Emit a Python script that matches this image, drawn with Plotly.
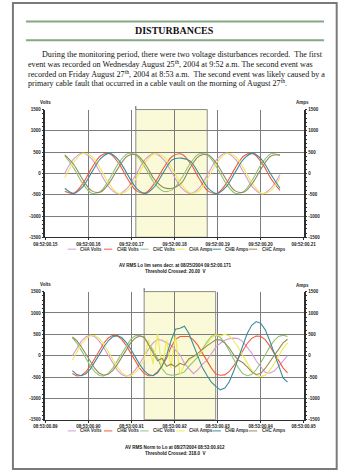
import plotly.graph_objects as go

W, H = 351, 473

# ---------------- data ----------------
series_names = ["CHA Volts", "CHB Volts", "CHC Volts", "CHA Amps", "CHB Amps", "CHC Amps"]
series_colors = ["#d99ad9", "#f25a3c", "#8fc474", "#eeea50", "#3d8c9a", "#968a5a"]
series_axis = ["left", "left", "left", "right", "right", "right"]

y_tickvals = [-1500, -1000, -500, 0, 500, 1000, 1500]
y_ticktext = ["-1500", "-1000", "-500", "0", "500", "1000", "1500"]

# ---- chart 1 : 08/25/2004 ----
x1_tickvals = [0.15, 0.16, 0.17, 0.18, 0.19, 0.20, 0.21]
x1_ticktext = ["09:52:00.15", "09:52:00.16", "09:52:00.17", "09:52:00.18",
               "09:52:00.19", "09:52:00.20", "09:52:00.21"]
x1_range = [0.15, 0.21]
event1_window = [0.17100, 0.18760]
t1 = [0.15450, 0.15658, 0.15867, 0.16075, 0.16283, 0.16492, 0.16700, 0.16908,
      0.17117, 0.17325, 0.17533, 0.17742, 0.17950, 0.18158, 0.18367, 0.18575,
      0.18783, 0.18992, 0.19200, 0.19408, 0.19617, 0.19825, 0.20033, 0.20242,
      0.20450]
c1_cha_volts = [0, 340, 480, 340, 0, -340, -480, -340, 0, 335, 470, 330, 0,
                -335, -475, -340, 0, 340, 480, 340, 5, -335, -480, -345, -30]
c1_chb_volts = [-416, -464, -240, 124, 416, 464, 240, -124, -410, -455, -235,
                120, 405, 455, 240, -124, -416, -464, -240, 124, 416, 464, 240,
                -124, -400]
c1_chc_volts = [416, 124, -240, -464, -416, -124, 240, 464, 416, 124, -230,
                -420, -380, -120, 235, 460, 416, 124, -240, -464, -416, -124,
                240, 464, 416]
c1_cha_amps = [-100, 262, 469, 403, 100, -262, -469, -403, -100, 262, 465, 400,
               100, -255, -460, -400, -100, 262, 469, 403, 100, -262, -469,
               -403, -100]
c1_chb_amps = [-349, -470, -314, 24, 349, 470, 314, -24, -349, -470, -314, 24,
               320, 360, 290, -20, -349, -470, -314, 24, 349, 470, 314, -24,
               -349]
c1_chc_amps = [437, 209, -142, -410, -437, -209, 142, 410, 437, 209, -142,
               -330, -350, -230, 142, 410, 437, 209, -142, -410, -437, -209,
               142, 410, 437]

# ---- chart 2 : 08/27/2004 ----
x2_tickvals = [0.89, 0.90, 0.91, 0.92, 0.93, 0.94, 0.95]
x2_ticktext = ["08:53:00.89", "08:53:00.90", "08:53:00.91", "08:53:00.92",
               "08:53:00.93", "08:53:00.94", "08:53:00.95"]
x2_range = [0.89, 0.95]
event2_window = [0.91294, 0.92956]
t2 = [0.89626, 0.89730, 0.89834, 0.89939, 0.90043, 0.90147, 0.90251, 0.90355,
      0.90459, 0.90564, 0.90668, 0.90772, 0.90876, 0.90980, 0.91084, 0.91189,
      0.91293, 0.91397, 0.91501, 0.91605, 0.91709, 0.91814, 0.91918, 0.92022,
      0.92126, 0.92230, 0.92334, 0.92439, 0.92543, 0.92647, 0.92751, 0.92855,
      0.92959, 0.93064, 0.93168, 0.93272, 0.93376, 0.93480, 0.93584, 0.93689,
      0.93793, 0.93897, 0.94001, 0.94105, 0.94209, 0.94314, 0.94418, 0.94522,
      0.94626]
c2_cha_volts = [0, 184, 339, 444, 480, 444, 339, 184, 0, -184, -339, -444, -480,
                -444, -339, -184, 0,
                150, 300, 380, 360, 300, 240, 130, 20, -180, -300, -420, -330,
                -200, -110, 60, 200,
                290, 360, 400, 410, 400, 330, 200, 60, -120, -270, -390, -410,
                -360, -250, -120, 0]
c2_chb_volts = [-416, -476, -464, -381, -240, -63, 124, 292, 416, 476, 464, 381,
                240, 63, -124, -292, -416,
                -470, -464, -381, -240, -63, 200, 380, 450, 455, 450, 370, 240,
                60, -124, -292, -430,
                -460, -450, -370, -235, -60, 120, 285, 405, 460, 455, 375, 235,
                60, -120, -285, -400]
c2_chc_volts = [416, 292, 124, -63, -240, -381, -464, -476, -416, -292, -124, 63,
                240, 381, 464, 476, 416,
                292, 124, -63, -300, -430, -460, -450, -420, -380, -250, -130,
                -30, 150, 320, 450, 480,
                430, 300, 110, -100, -280, -420, -470, -440, -330, -170, 20, 200,
                350, 450, 480, 450]
c2_cha_amps = [-100, 87, 262, 396, 469, 472, 403, 272, 100, -87, -262, -396,
               -469, -472, -403, -272, -100,
               370, -200, 520, -325, 370, -285, 480, -450, -210, -120, -20, 0,
               130, 255, 420, 485,
               460, 500, 460, 350, 190, 0, -190, -350, -460, -490, -460, -350,
               -190, 0, 170, 300]
c2_chb_amps = [-349, -443, -470, -424, -314, -157, 24, 203, 349, 443, 470, 424,
               314, 157, -24, -203, -349,
               -443, -470, -400, -250, 0, 350, 620, 640, 690, 520, 260, -30,
               -280, -460, -620, -720,
               -800, -760, -610, -360, -60, 250, 520, 710, 800, 760, 610, 360,
               60, -250, -520, -620]
c2_chc_amps = [437, 350, 209, 36, -142, -299, -410, -459, -437, -350, -209, -36,
               142, 299, 410, 459, 437,
               250, 60, -120, -60, -250, -200, -260, -180, -220, -70, -20, 60,
               150, 230, 300, 370,
               370, 300, 180, 20, -100, -160, -260, -380, -440, -420, -300,
               -150, 20, 170, 300, 385]

chart1_series = [c1_cha_volts, c1_chb_volts, c1_chc_volts,
                 c1_cha_amps, c1_chb_amps, c1_chc_amps]
chart2_series = [c2_cha_volts, c2_chb_volts, c2_chc_volts,
                 c2_cha_amps, c2_chb_amps, c2_chc_amps]

caption1 = ["AV RMS Lo lim sens decr. at 08/25/2004 09:52:00.171",
            "Threshold Crossed: 20.00  V"]
caption2 = ["AV RMS Norm to Lo at 08/27/2004 08:53:00.912",
            "Threshold Crossed: 318.0  V"]

heading = "DISTURBANCES"
paragraph = [
    "During the monitoring period, there were two voltage disturbances recorded.  The first",
    "event was recorded on Wednesday August 25<sup>th</sup>, 2004 at 9:52 a.m. The second event was",
    "recorded on Friday August 27<sup>th</sup>, 2004 at 8:53 a.m.  The second event was likely caused by a",
    "primary cable fault that occurred in a cable vault on the morning of August 27<sup>th</sup>.",
]

# ---------------- layout helpers (page pixel -> paper) ----------------
def px(x):
    return x / W


def py(y):
    return 1 - y / H


SANS = "Liberation Sans"
SERIF = "Liberation Serif"
GRID = "#7c7c7c"
AXIS = "#2e2e2e"

plot_left, plot_right = 36, 314
chart_rows = [
    dict(top=108.7, bottom=237.8, xa="x", ya="y", ya2="y2",
         t=t1, series=chart1_series, xr=x1_range, xt=(x1_tickvals, x1_ticktext),
         win=event1_window, legend_y=249.8, cap=caption1, cap_y=(266.8, 272.4),
         unit_y=101.5),
    dict(top=292.7, bottom=422.2, xa="x2", ya="y3", ya2="y4",
         t=t2, series=chart2_series, xr=x2_range, xt=(x2_tickvals, x2_ticktext),
         win=event2_window, legend_y=433.5, cap=caption2, cap_y=(450.6, 456.0),
         unit_y=285.8),
]

fig = go.Figure()
annotations = []
shapes = []

for ci, row in enumerate(chart_rows):
    for si, (name, color, side) in enumerate(zip(series_names, series_colors, series_axis)):
        fig.add_trace(go.Scatter(
            x=row["t"], y=row["series"][si], name=name, mode="lines",
            line=dict(color=color, width=1.1,
                      shape="spline" if ci == 0 else "linear"),
            xaxis=row["xa"], yaxis=row["ya"] if side == "left" else row["ya2"],
            showlegend=False, hoverinfo="skip"))

    # highlighted event window
    shapes.append(dict(type="rect", xref=row["xa"], yref=row["ya"] + " domain",
                       x0=row["win"][0], x1=row["win"][1], y0=0, y1=1,
                       fillcolor="#fafad8", line=dict(color="#8a8a8a", width=1),
                       layer="below"))
    # trigger cursor mark above plot
    shapes.append(dict(type="line", xref=row["xa"], yref="paper",
                       x0=row["win"][0], x1=row["win"][0],
                       y0=py(row["top"]), y1=py(row["top"] - 3.5),
                       line=dict(color="#555555", width=1)))

    # unit labels
    annotations.append(dict(text="<b>Volts</b>", x=px(36.5), y=py(row["unit_y"]),
                            xref="paper", yref="paper", showarrow=False,
                            font=dict(family=SANS, size=4.5, color="#222"),
                            xanchor="center", yanchor="middle"))
    annotations.append(dict(text="<b>Amps</b>", x=px(313), y=py(row["unit_y"] + 0.5),
                            xref="paper", yref="paper", showarrow=False,
                            font=dict(family=SANS, size=4.5, color="#222"),
                            xanchor="center", yanchor="middle"))

    # legend row
    for si, (name, color) in enumerate(zip(series_names, series_colors)):
        x0 = 60 + si * 39
        shapes.append(dict(type="line", xref="paper", yref="paper",
                           x0=px(x0), x1=px(x0 + 9),
                           y0=py(row["legend_y"]), y1=py(row["legend_y"]),
                           line=dict(color=color, width=1)))
        annotations.append(dict(text="<b>" + name + "</b>", x=px(x0 + 11.5),
                                y=py(row["legend_y"]), xref="paper", yref="paper",
                                showarrow=False, xanchor="left", yanchor="middle",
                                font=dict(family=SANS, size=4.5, color="#333")))

    # caption
    for line, yy in zip(row["cap"], row["cap_y"]):
        annotations.append(dict(text="<b>" + line + "</b>", x=px(175.5), y=py(yy),
                                xref="paper", yref="paper", showarrow=False,
                                xanchor="center", yanchor="middle",
                                font=dict(family=SANS, size=4.5, color="#111")))

# page heading
annotations.append(dict(text="<b>" + heading + "</b>", x=px(174.5), y=py(29.3),
                        xref="paper", yref="paper", showarrow=False,
                        xanchor="center", yanchor="middle",
                        font=dict(family=SERIF, size=10, color="#111")))
para_x = [30, 15, 15, 15]
para_y = [53.0, 63.0, 72.7, 82.2]
for line, xx, yy in zip(paragraph, para_x, para_y):
    annotations.append(dict(text=line, x=px(xx), y=py(yy), xref="paper", yref="paper",
                            showarrow=False, xanchor="left", yanchor="middle",
                            font=dict(family=SERIF, size=8.1, color="#111")))

# rules under/over heading
for yy in (19.6, 38.6):
    shapes.append(dict(type="line", xref="paper", yref="paper",
                       x0=px(15), x1=px(336), y0=py(yy), y1=py(yy),
                       line=dict(color="#86a886", width=2)))
# page frame
shapes.append(dict(type="rect", xref="paper", yref="paper",
                   x0=px(1), x1=px(349.6), y0=py(472), y1=py(1),
                   line=dict(color="#7a7a7a", width=2), fillcolor="rgba(0,0,0,0)"))

xdom = [px(plot_left), px(plot_right)]
tickfont = dict(family=SANS, size=4.5, color="#222", weight="bold")


def xaxis_cfg(row, anchor):
    return dict(domain=xdom, anchor=anchor, range=row["xr"],
                tickvals=row["xt"][0], ticktext=row["xt"][1], tickfont=tickfont,
                showgrid=True, gridcolor=GRID, gridwidth=1,
                showline=True, linecolor=AXIS, linewidth=1.3,
                ticks="outside", ticklen=2, tickcolor=AXIS, tickwidth=1,
                zeroline=False, fixedrange=True)


def yaxis_cfg(row, side, overlay=None, anchor=None):
    d = dict(domain=[py(row["bottom"]), py(row["top"])], range=[-1500, 1500],
             tickvals=y_tickvals, ticktext=y_ticktext, tickfont=tickfont,
             showline=True, linecolor=AXIS, linewidth=1.5,
             ticks="outside", ticklen=2, tickcolor=AXIS, tickwidth=1,
             minor=dict(dtick=100, ticks="outside", ticklen=1.5, tickcolor=AXIS,
                        showgrid=False),
             zeroline=False, side=side, fixedrange=True)
    if overlay:
        d.update(overlaying=overlay, showgrid=False, anchor=anchor)
    else:
        d.update(showgrid=True, gridcolor=GRID, gridwidth=1, anchor=anchor)
    return d


r1, r2 = chart_rows
fig.update_layout(
    width=W, height=H, margin=dict(l=0, r=0, t=0, b=0),
    paper_bgcolor="white", plot_bgcolor="rgba(0,0,0,0)",
    showlegend=False,
    xaxis=xaxis_cfg(r1, "y"),
    yaxis=yaxis_cfg(r1, "left", anchor="x"),
    yaxis2=yaxis_cfg(r1, "right", overlay="y", anchor="x"),
    xaxis2=xaxis_cfg(r2, "y3"),
    yaxis3=yaxis_cfg(r2, "left", anchor="x2"),
    yaxis4=yaxis_cfg(r2, "right", overlay="y3", anchor="x2"),
    annotations=annotations, shapes=shapes,
)

fig.write_html("out.html", config={"displayModeBar": False})
